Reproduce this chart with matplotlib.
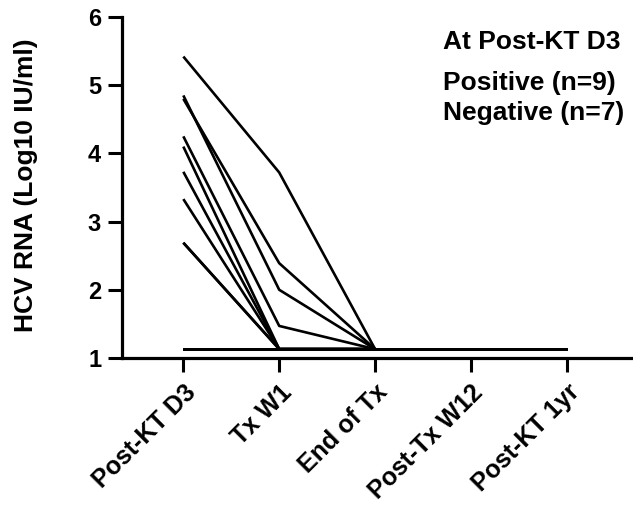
"""
HCV RNA の推移 (Post-KT D3 で陽性/陰性)
"""
import matplotlib.pyplot as plt

plt.rcParams['font.family'] = ['Liberation Sans', 'DejaVu Sans']
plt.rcParams['font.weight'] = 'bold'

timepoints = ["Post-KT D3", "Tx W1", "End of Tx", "Post-Tx W12", "Post-KT 1yr"]
lod = 1.13

# 陽性例 (D3, W1, End of Tx)
pos_d3 = [5.42, 4.85, 4.80, 4.25, 4.10, 3.73, 3.33, 2.69, 2.69]
pos_w1 = [3.72, 2.00, 2.39, 1.47, lod, lod, lod, lod, lod]
pos_eot = [lod] * 9

# 陰性例 (全時点で検出限界)
neg_values = [lod, lod, lod, lod, lod]
n_pos = 9
n_neg = 7

fig = plt.figure(figsize=(6.33, 5.09), dpi=100)
ax = fig.add_axes([0.1927, 0.2967, 0.8073, 0.6699])

for a, b, c in zip(pos_d3, pos_w1, pos_eot):
    ax.plot([0, 1, 2], [a, b, c], color="black", lw=1.9, solid_capstyle="butt")
for _ in range(n_neg):
    ax.plot(range(len(timepoints)), neg_values, color="black", lw=1.9,
            solid_capstyle="butt")

ax.set_xlim(-0.64, 4.69)
ax.set_ylim(1, 6)
ax.set_yticks([1, 2, 3, 4, 5, 6])
ax.set_xticks(range(len(timepoints)))
ax.set_xticklabels(timepoints, rotation=45, ha="right", rotation_mode="anchor",
                   fontsize=18, fontweight="bold")
ax.tick_params(axis="y", labelsize=17, length=10, width=2.2, pad=5)
ax.tick_params(axis="x", length=10, width=2.2, pad=6)
for lab in ax.get_yticklabels():
    lab.set_fontweight("bold")
ax.spines["top"].set_visible(False)
ax.spines["right"].set_visible(False)
ax.spines["left"].set_linewidth(2.3)
ax.spines["bottom"].set_linewidth(2.3)
ax.set_ylabel("HCV RNA (Log10 IU/ml)", fontsize=19, fontweight="bold")
ax.yaxis.set_label_coords(-0.165, 0.507)

fig.text(0.70, 0.917, "At Post-KT D3", fontsize=19, fontweight="bold", va="center")
fig.text(0.70, 0.837, f"Positive (n={n_pos})", fontsize=19, fontweight="bold", va="center")
fig.text(0.70, 0.778, f"Negative (n={n_neg})", fontsize=19, fontweight="bold", va="center")

fig.savefig("out.png", dpi=100)
